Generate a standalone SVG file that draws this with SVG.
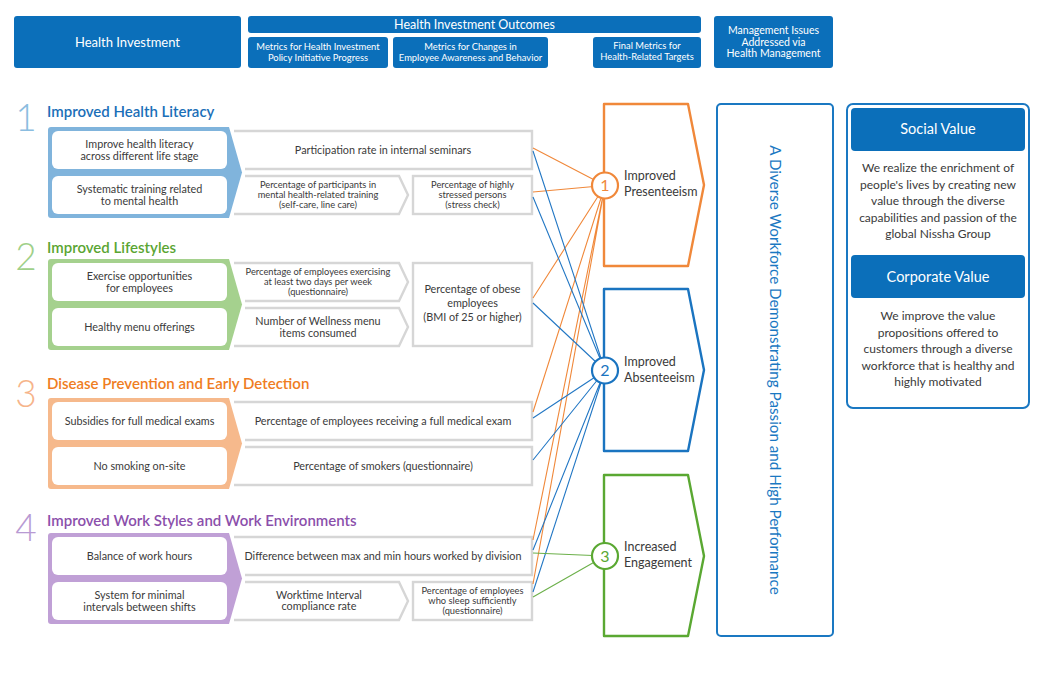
<svg xmlns="http://www.w3.org/2000/svg" width="1040" height="686" viewBox="0 0 1040 686">
<style>
text{font-family:Lato,"Open Sans","Liberation Sans",sans-serif;}
.hdr{fill:#0b6fba;}
.hw{fill:#fff;text-anchor:middle;}
.wb{fill:#fff;}
.met{fill:#fff;}
.mets{fill:none;stroke:#d6d6d6;stroke-width:2.4;stroke-linejoin:miter;}
.t{fill:#3a3a3a;text-anchor:middle;font-size:10.8px;}
.ts{fill:#3a3a3a;text-anchor:middle;font-size:9.3px;}
.num{font-size:37px;font-weight:300;text-anchor:middle;}
.ttl{font-size:15px;font-weight:600;}
.co{stroke:#f0883a;stroke-width:1.1;fill:none;}
.cb{stroke:#2277c4;stroke-width:1.1;fill:none;}
.cg{stroke:#6cb04a;stroke-width:1.1;fill:none;}
.pent{fill:#fff;stroke-width:2.4;stroke-linejoin:round;}
.circ{fill:#fff;stroke-width:2.2;}
.cn{font-size:16px;text-anchor:middle;}
.lbl{fill:#3a3a3a;font-size:12.5px;}
.pt{fill:#3a3a3a;font-size:12px;text-anchor:middle;}
</style>

<!-- Header -->
<g id="hdr-investment">
<rect class="hdr" x="14" y="16" width="227" height="52" rx="3"/>
<text class="hw" x="127.5" y="47" font-size="13">Health Investment</text>
</g>
<g id="hdr-outcomes">
<rect class="hdr" x="248" y="16" width="453" height="17" rx="3"/>
<text class="hw" x="474.5" y="29" font-size="12.5">Health Investment Outcomes</text>
</g>
<g id="hdr-policy">
<rect class="hdr" x="248" y="37" width="140" height="31" rx="3"/>
<text class="hw" x="318" y="50" font-size="9.4">Metrics for Health Investment</text>
<text class="hw" x="318" y="61" font-size="9.4">Policy Initiative Progress</text>
</g>
<g id="hdr-awareness">
<rect class="hdr" x="393" y="37" width="155" height="31" rx="3"/>
<text class="hw" x="470.5" y="50" font-size="9.4">Metrics for Changes in</text>
<text class="hw" x="470.5" y="61" font-size="9.4">Employee Awareness and Behavior</text>
</g>
<g id="hdr-final">
<rect class="hdr" x="593" y="37" width="108" height="31" rx="3"/>
<text class="hw" x="647" y="49" font-size="9.4">Final Metrics for</text>
<text class="hw" x="647" y="60" font-size="9.4">Health-Related Targets</text>
</g>
<g id="hdr-management">
<rect class="hdr" x="714" y="16" width="119" height="52" rx="3"/>
<text class="hw" x="773.5" y="34" font-size="10.5">Management Issues</text>
<text class="hw" x="773.5" y="45.5" font-size="10.5">Addressed via</text>
<text class="hw" x="773.5" y="57" font-size="10.5">Health Management</text>
</g>

<!-- Section 1 -->
<g id="sec1">
<text class="num" x="26" y="131" fill="#8bbde0">1</text>
<text class="ttl" x="47" y="117" fill="#1b6fb8">Improved Health Literacy</text>
<path d="M48,130 Q48,127 51,127 L229,127 L242,172.5 L229,218 L51,218 Q48,218 48,215 Z" fill="#80b4dc"/>
<g id="s1-inv1"><rect class="wb" x="52" y="131" width="175" height="38" rx="6"/>
<text class="t" x="139.5" y="148">Improve health literacy</text><text class="t" x="139.5" y="159.5">across different life stage</text></g>
<g id="s1-inv2"><rect class="wb" x="52" y="176" width="175" height="38" rx="6"/>
<text class="t" x="139.5" y="193">Systematic training related</text><text class="t" x="139.5" y="204.5">to mental health</text></g>
<g id="s1-m1"><path class="met" d="M234,131 L532,131 L532,169 L245,169 Z"/><path class="mets" d="M234,131 L532,131 L532,169 L245,169"/>
<text class="t" x="383" y="153.8">Participation rate in internal seminars</text></g>
<g id="s1-m2"><path class="met" d="M245,176 L399,176 L408,195 L399,214 L234,214 Z"/><path class="mets" d="M245,176 L399,176 L408,195 L399,214 L234,214"/>
<text class="ts" x="318" y="188">Percentage of participants in</text><text class="ts" x="318" y="198">mental health-related training</text><text class="ts" x="318" y="208">(self-care, line care)</text></g>
<g id="s1-m3"><rect class="met" x="413" y="176" width="119" height="38"/><rect class="mets" x="413" y="176" width="119" height="38"/>
<text class="ts" x="472.5" y="188">Percentage of highly</text><text class="ts" x="472.5" y="198">stressed persons</text><text class="ts" x="472.5" y="208">(stress check)</text></g>
</g>

<!-- Section 2 -->
<g id="sec2">
<text class="num" x="26" y="270" fill="#9fd08a">2</text>
<text class="ttl" x="47" y="252.5" fill="#5aa532">Improved Lifestyles</text>
<path d="M48,262 Q48,259 51,259 L229,259 L242,304.5 L229,350 L51,350 Q48,350 48,347 Z" fill="#a5d18e"/>
<g id="s2-inv1"><rect class="wb" x="52" y="263" width="175" height="38" rx="6"/>
<text class="t" x="139.5" y="280">Exercise opportunities</text><text class="t" x="139.5" y="291.5">for employees</text></g>
<g id="s2-inv2"><rect class="wb" x="52" y="308" width="175" height="38" rx="6"/>
<text class="t" x="139.5" y="330.8">Healthy menu offerings</text></g>
<g id="s2-m1"><path class="met" d="M234,263 L399,263 L408,282 L399,301 L245,301 Z"/><path class="mets" d="M234,263 L399,263 L408,282 L399,301 L245,301"/>
<text class="ts" x="318" y="275">Percentage of employees exercising</text><text class="ts" x="318" y="285">at least two days per week</text><text class="ts" x="318" y="295">(questionnaire)</text></g>
<g id="s2-m2"><path class="met" d="M245,308 L399,308 L408,327 L399,346 L234,346 Z"/><path class="mets" d="M245,308 L399,308 L408,327 L399,346 L234,346"/>
<text class="t" x="318" y="325">Number of Wellness menu</text><text class="t" x="318" y="336.5">items consumed</text></g>
<g id="s2-m3"><rect class="met" x="413" y="263" width="119" height="83"/><rect class="mets" x="413" y="263" width="119" height="83"/>
<text class="t" x="472.5" y="293">Percentage of obese</text><text class="t" x="472.5" y="307">employees</text><text class="t" x="472.5" y="320.5">(BMI of 25 or higher)</text></g>
</g>

<!-- Section 3 -->
<g id="sec3">
<text class="num" x="26" y="406.5" fill="#f6b48a">3</text>
<text class="ttl" x="47" y="389" fill="#ef7d22">Disease Prevention and Early Detection</text>
<path d="M48,401 Q48,398 51,398 L229,398 L242,443.5 L229,489 L51,489 Q48,489 48,486 Z" fill="#f6b98c"/>
<g id="s3-inv1"><rect class="wb" x="52" y="402" width="175" height="38" rx="6"/>
<text class="t" x="139.5" y="424.8">Subsidies for full medical exams</text></g>
<g id="s3-inv2"><rect class="wb" x="52" y="447" width="175" height="38" rx="6"/>
<text class="t" x="139.5" y="469.8">No smoking on-site</text></g>
<g id="s3-m1"><path class="met" d="M234,402 L532,402 L532,440 L245,440 Z"/><path class="mets" d="M234,402 L532,402 L532,440 L245,440"/>
<text class="t" x="383" y="424.8">Percentage of employees receiving a full medical exam</text></g>
<g id="s3-m2"><path class="met" d="M245,447 L532,447 L532,485 L234,485 Z"/><path class="mets" d="M245,447 L532,447 L532,485 L234,485"/>
<text class="t" x="383" y="469.8">Percentage of smokers (questionnaire)</text></g>
</g>

<!-- Section 4 -->
<g id="sec4">
<text class="num" x="26" y="541" fill="#b89ad3">4</text>
<text class="ttl" x="47" y="525.5" fill="#8b4fab">Improved Work Styles and Work Environments</text>
<path d="M48,536 Q48,533 51,533 L229,533 L242,578.5 L229,624 L51,624 Q48,624 48,621 Z" fill="#c0a0d6"/>
<g id="s4-inv1"><rect class="wb" x="52" y="537" width="175" height="38" rx="6"/>
<text class="t" x="139.5" y="559.8">Balance of work hours</text></g>
<g id="s4-inv2"><rect class="wb" x="52" y="582" width="175" height="38" rx="6"/>
<text class="t" x="139.5" y="599">System for minimal</text><text class="t" x="139.5" y="610.5">intervals between shifts</text></g>
<g id="s4-m1"><path class="met" d="M234,537 L532,537 L532,575 L245,575 Z"/><path class="mets" d="M234,537 L532,537 L532,575 L245,575"/>
<text class="t" x="383" y="559.8">Difference between max and min hours worked by division</text></g>
<g id="s4-m2"><path class="met" d="M245,582 L399,582 L408,601 L399,620 L234,620 Z"/><path class="mets" d="M245,582 L399,582 L408,601 L399,620 L234,620"/>
<text class="t" x="319" y="598.5">Worktime Interval</text><text class="t" x="319" y="610">compliance rate</text></g>
<g id="s4-m3"><rect class="met" x="413" y="582" width="119" height="38"/><rect class="mets" x="413" y="582" width="119" height="38"/>
<text class="ts" x="472.5" y="594">Percentage of employees</text><text class="ts" x="472.5" y="604">who sleep sufficiently</text><text class="ts" x="472.5" y="614">(questionnaire)</text></g>
</g>

<!-- Outcome pentagons -->
<g id="out1"><path class="pent" stroke="#f0883a" d="M604,104 L688,104 L704,185 L688,266 L604,266 Z"/></g>
<g id="out2"><path class="pent" stroke="#1a74c0" d="M604,289 L688,289 L704,370 L688,451 L604,451 Z"/></g>
<g id="out3"><path class="pent" stroke="#5aa832" d="M604,475 L688,475 L704,556 L688,636 L604,636 Z"/></g>

<!-- Connectors -->
<g id="connectors">
<path class="co" d="M533,148 L605,185.5 M533,192 L605,185.5 M533,298 L605,185.5 M533,412 L605,185.5 M533,540 L605,185.5 M533,584 L605,185.5"/>
<path class="cb" d="M533,151 L605,370.5 M533,197 L605,370.5 M533,303 L605,370.5 M533,418 L605,370.5 M533,460 L605,370.5 M533,550 L605,370.5 M533,592 L605,370.5"/>
<path class="cg" d="M533,553 L605,556 M533,597 L605,556"/>
</g>

<g id="circ1"><circle class="circ" stroke="#f0883a" cx="605" cy="185.5" r="13"/>
<text class="cn" x="605" y="191.2" fill="#f0883a">1</text>
<text class="lbl" x="624" y="180">Improved</text><text class="lbl" x="624" y="196">Presenteeism</text></g>
<g id="circ2"><circle class="circ" stroke="#1a74c0" cx="605" cy="370.5" r="13"/>
<text class="cn" x="605" y="376.2" fill="#1a74c0">2</text>
<text class="lbl" x="624" y="366">Improved</text><text class="lbl" x="624" y="382">Absenteeism</text></g>
<g id="circ3"><circle class="circ" stroke="#5aa832" cx="605" cy="556" r="13"/>
<text class="cn" x="605" y="561.7" fill="#5aa832">3</text>
<text class="lbl" x="624" y="551">Increased</text><text class="lbl" x="624" y="567">Engagement</text></g>

<!-- Management box -->
<g id="mgmt">
<rect x="717" y="104" width="116" height="532" rx="4" fill="#fff" stroke="#1a78c2" stroke-width="2"/>
<text transform="translate(770,370) rotate(90)" x="0" y="0" text-anchor="middle" font-size="15.2" fill="#1a78c2">A Diverse Workforce Demonstrating Passion and High Performance</text>
</g>

<!-- Value panel -->
<g id="values">
<rect x="847" y="104" width="182" height="304" rx="6" fill="#fff" stroke="#1a78c2" stroke-width="2"/>
<g id="social">
<rect class="hdr" x="851" y="108" width="174" height="43" rx="4"/>
<text class="hw" x="938" y="134" font-size="14.5">Social Value</text>
<text class="pt" x="938" y="172">We realize the enrichment of</text>
<text class="pt" x="938" y="188.5">people's lives by creating new</text>
<text class="pt" x="938" y="205">value through the diverse</text>
<text class="pt" x="938" y="221.5">capabilities and passion of the</text>
<text class="pt" x="938" y="238">global Nissha Group</text>
</g>
<g id="corporate">
<rect class="hdr" x="851" y="255" width="174" height="43" rx="4"/>
<text class="hw" x="938" y="281.5" font-size="14.5">Corporate Value</text>
<text class="pt" x="938" y="320">We improve the value</text>
<text class="pt" x="938" y="336.5">propositions offered to</text>
<text class="pt" x="938" y="353">customers through a diverse</text>
<text class="pt" x="938" y="369.5">workforce that is healthy and</text>
<text class="pt" x="938" y="386">highly motivated</text>
</g>
</g>
</svg>
